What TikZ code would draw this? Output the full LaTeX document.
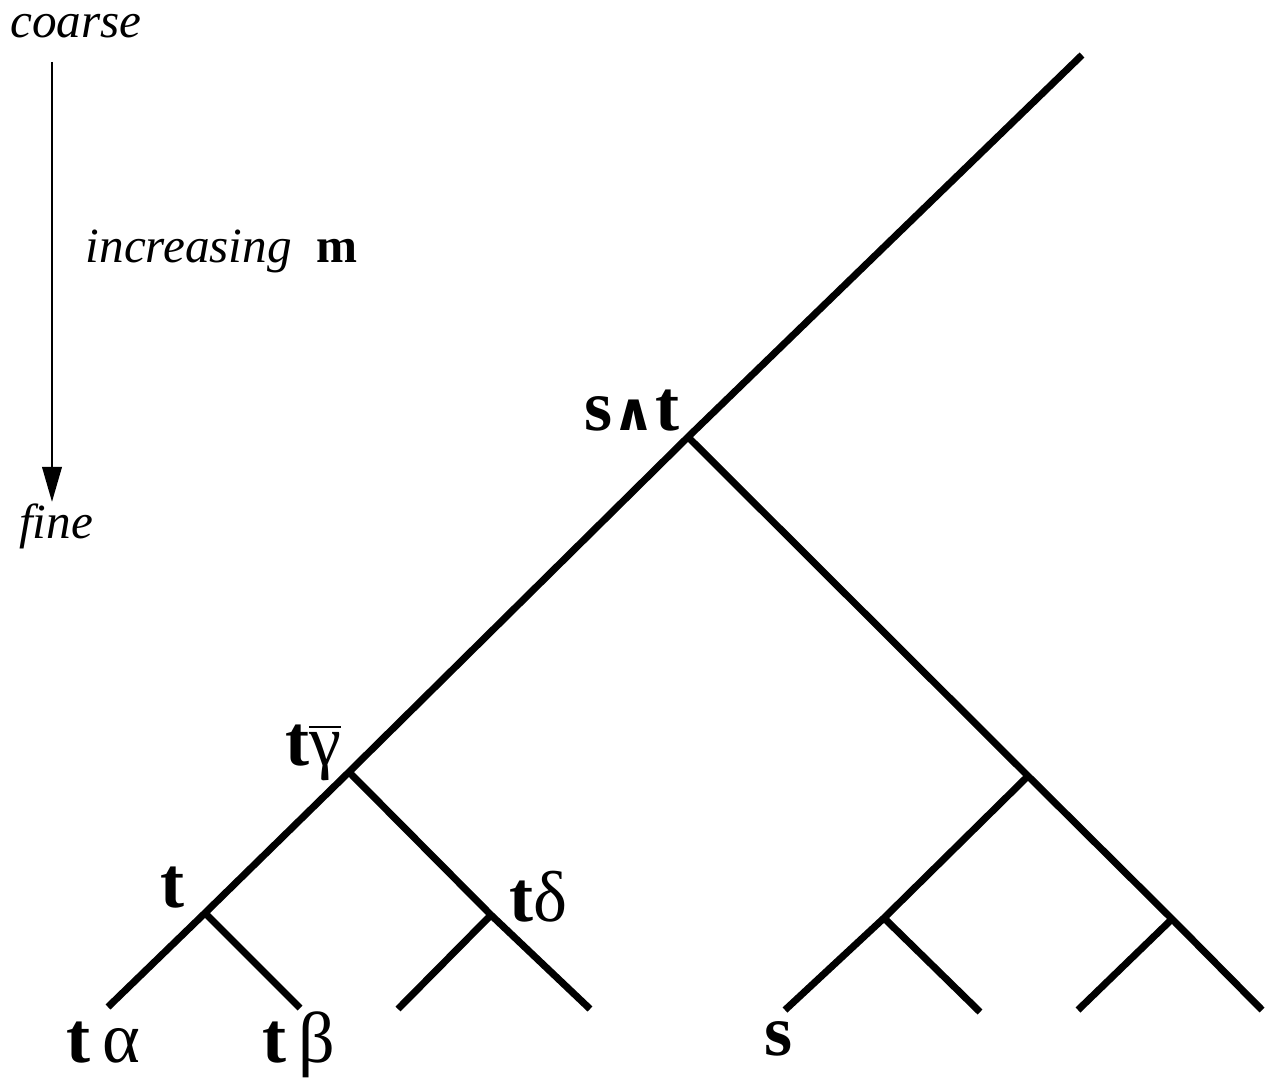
\documentclass[tikz,border=0pt]{standalone}
\usepackage{fontspec}
\setmainfont{Liberation Serif}
\newfontfamily\symfont{DejaVu Sans}
\usetikzlibrary{arrows.meta,positioning}
\newcommand{\tb}{\textbf{t}}

\begin{document}
\begin{tikzpicture}[x=0.01cm, y=-0.01cm,
      branch/.style={line width=2pt},
      lbl/.style={font=\fontsize{20.5}{23}\selectfont, inner sep=0pt},
      note/.style={font=\fontsize{14}{16}\selectfont\itshape, inner sep=0pt},
      arr/.style={-{Triangle[length=10pt, width=5.5pt]}, line width=0.85pt}
    ]
    \useasboundingbox (0,0) rectangle (1267,1082);

    \coordinate (root) at (1082,55);
    \coordinate (st)   at (688,437);
    \coordinate (tg)   at (349,772);
    \coordinate (t)    at (205,913);
    \coordinate (ta)   at (108,1007);
    \coordinate (tbeta) at (300,1008);
    \coordinate (td)   at (491,915);
    \coordinate (l3)   at (398,1009);
    \coordinate (l4)   at (590,1009);
    \coordinate (r1)   at (1028,776);
    \coordinate (r2)   at (884,918);
    \coordinate (s)    at (785,1010);
    \coordinate (l6)   at (980,1012);
    \coordinate (r3)   at (1172,919);
    \coordinate (l7)   at (1078,1010);
    \coordinate (l8)   at (1262,1010);

    \draw[branch] (root) -- (st) -- (tg) -- (t) -- (ta);
    \draw[branch] (t) -- (tbeta);
    \draw[branch] (tg) -- (td) -- (l4);
    \draw[branch] (td) -- (l3);
    \draw[branch] (st) -- (r1) -- (r3) -- (l8);
    \draw[branch] (r1) -- (r2) -- (s);
    \draw[branch] (r2) -- (l6);
    \draw[branch] (r3) -- (l7);

    \node[lbl, anchor=base] (lst) at (632,430) {\textbf{s}{\symfont\bfseries\fontsize{15}{17}\selectfont ∧}\textbf{t}};
    \node[lbl, anchor=base east] (ltg) at (342,765) {\tb$\overline{\mbox{γ}}$};
    \node[lbl, anchor=base] (lt) at (172,907) {\tb};
    \node[lbl, anchor=base west] (ltd) at (509,921) {\tb δ};
    \node[lbl, anchor=base west] (lta) at (66,1062) {\tb\,α};
    \node[lbl, anchor=base west] (ltb) at (262,1062) {\tb\,β};
    \node[lbl, anchor=base] (ls) at (779,1055) {\textbf{s}};

    \node[note, anchor=base] (coarse) at (76,38) {coarse};
    \node[note, anchor=base west] (incr) at (85,262) {increasing \ \upshape\bfseries m};
    \node[note, anchor=base] (fine) at (56,538) {fine};
    \coordinate (atop) at (52,62);
    \coordinate (abot) at (52,502);
    \draw[arr] (atop) -- (abot);
  \end{tikzpicture}
\end{document}
